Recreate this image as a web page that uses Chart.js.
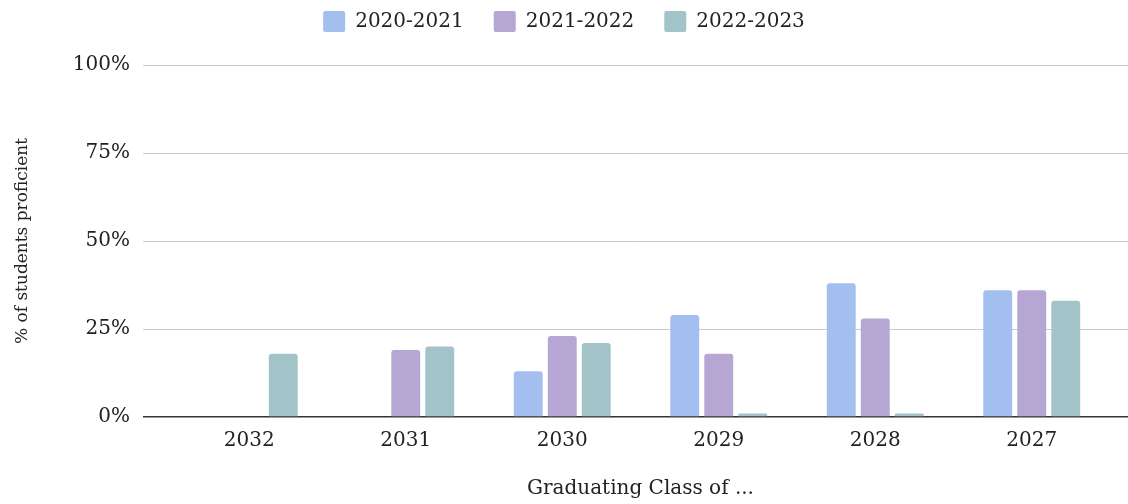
<!DOCTYPE html>
<html>
<head>
<meta charset="utf-8">
<script src="https://cdn.jsdelivr.net/npm/chart.js@4.4.1/dist/chart.umd.min.js"></script>
<style>
  html, body { margin: 0; padding: 0; background: #fff; }
  #wrap { width: 1128px; height: 504px; }
</style>
</head>
<body>
<div id="wrap"><canvas id="chart"></canvas></div>
<script>
const classes = ['2032', '2031', '2030', '2029', '2028', '2027'];
const seriesNames = ['2020-2021', '2021-2022', '2022-2023'];
const year2020 = [0, 0, 13, 29, 38, 36];
const year2021 = [0, 19, 23, 18, 28, 36];
const year2022 = [18, 20, 21, 1, 1, 33];
const yTicks = [0, 25, 50, 75, 100];
const colors = ['#a2bfef', '#b5a6d3', '#a2c4c8'];

const fontFamily = '"DejaVu Serif", "Liberation Serif", serif';

// pull the bar categories in from the gridline ends, like the original
const insetBars = {
  id: 'insetBars',
  afterLayout(chart) {
    const x = chart.scales.x;
    const area = chart.chartArea;
    x.left = area.left + 28;
    x.right = area.right - 18;
    x.width = x.right - x.left;
    x.configure();
  }
};

document.addEventListener('DOMContentLoaded', function() {
  const ctx = document.getElementById('chart').getContext('2d');
  new Chart(ctx, {
    type: 'bar',
    data: {
      labels: classes,
      datasets: [
        { label: seriesNames[0], data: year2020, backgroundColor: colors[0] },
        { label: seriesNames[1], data: year2021, backgroundColor: colors[1] },
        { label: seriesNames[2], data: year2022, backgroundColor: colors[2] }
      ]
    },
    options: {
      responsive: true,
      maintainAspectRatio: false,
      animation: false,
      datasets: {
        bar: {
          categoryPercentage: 0.652,
          barPercentage: 0.85,
          borderRadius: { topLeft: 3, topRight: 3, bottomLeft: 0, bottomRight: 0 },
          borderSkipped: 'bottom'
        }
      },
      layout: { padding: { left: 0, right: 0, top: -19, bottom: 3 } },
      plugins: {
        legend: {
          position: 'top',
          labels: {
            boxWidth: 22,
            boxHeight: 21,
            padding: 30,
            color: '#222',
            font: { family: fontFamily, size: 20 },
            useBorderRadius: true,
            borderRadius: 2
          }
        },
        tooltip: { enabled: false }
      },
      scales: {
        x: {
          grid: { display: false },
          border: { display: false },
          ticks: { color: '#222', font: { family: fontFamily, size: 20 }, padding: 4 },
          title: {
            display: true,
            text: 'Graduating Class of ...',
            color: '#222',
            font: { family: fontFamily, size: 20 },
            padding: { top: 20, bottom: 0 }
          }
        },
        // empty top axis, only there to keep space under the legend
        spacer: {
          type: 'category',
          position: 'top',
          labels: [],
          grid: { display: false },
          border: { display: false },
          ticks: { display: false },
          afterFit: scale => { scale.height = 23; }
        },
        y: {
          min: 0,
          max: 100,
          afterBuildTicks: scale => { scale.ticks = yTicks.map(v => ({ value: v })); },
          afterFit: scale => { scale.width = 143; },
          grid: {
            drawTicks: false,
            color: c => c.tick && c.tick.value === 0 ? '#333' : '#cccccc',
            lineWidth: c => c.tick && c.tick.value === 0 ? 1.5 : 1
          },
          border: { display: false },
          ticks: {
            color: '#222',
            padding: 13,
            font: { family: fontFamily, size: 20 },
            callback: v => v + '%'
          },
          title: {
            display: true,
            text: '% of students proficient',
            color: '#222',
            font: { family: fontFamily, size: 17 },
            padding: { top: 12, bottom: 0 }
          }
        }
      }
    },
    plugins: [insetBars]
  });
});
</script>
</body>
</html>
